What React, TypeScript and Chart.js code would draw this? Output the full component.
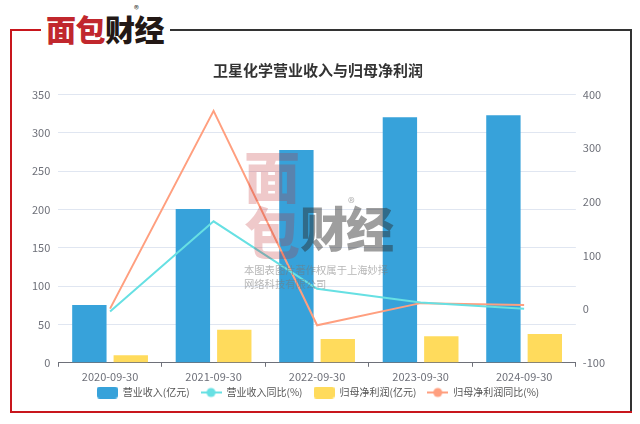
import React, { useEffect, useRef } from "react";
import { Chart, registerables } from "chart.js";

Chart.register(...registerables);

const categories = ["2020-09-30", "2021-09-30", "2022-09-30", "2023-09-30", "2024-09-30"];
const revenue = [75.4, 200.5, 277.6, 320.3, 322.9];
const revenueYoY = [-4.5, 163.7, 38, 12.3, 0.5];
const netProfit = [9.7, 43.1, 31, 34.5, 37.5];
const netProfitYoY = [1, 369.5, -30, 11.2, 7.5];
const seriesNames = ["营业收入(亿元)", "营业收入同比(%)", "归母净利润(亿元)", "归母净利润同比(%)"];
const leftTicks = [0, 350, 50];
const rightTicks = [-100, 400, 100];

const BLUE = "#37A2DA";
const CYAN = "#67E0E3";
const YELLOW = "#FFDB5C";
const ORANGE = "#FF9F7F";
const FONT = "'Noto Sans CJK SC', 'Noto Sans', sans-serif";

function rectIcon(color: string) {
  const c = document.createElement("canvas");
  c.width = 21;
  c.height = 12;
  const ctx = c.getContext("2d")!;
  ctx.fillStyle = color;
  ctx.beginPath();
  (ctx as any).roundRect(0, 0, 21, 12, 3);
  ctx.fill();
  return c;
}

function lineIcon(color: string) {
  const c = document.createElement("canvas");
  c.width = 21;
  c.height = 12;
  const ctx = c.getContext("2d")!;
  ctx.strokeStyle = color;
  ctx.lineWidth = 2;
  ctx.beginPath();
  ctx.moveTo(0, 6);
  ctx.lineTo(21, 6);
  ctx.stroke();
  ctx.fillStyle = color;
  ctx.beginPath();
  ctx.arc(10.5, 6, 4.5, 0, Math.PI * 2);
  ctx.fill();
  return c;
}

const legendShift = {
  id: "legendShift",
  afterLayout(chart: any) {
    const lg = chart.legend;
    if (lg) {
      lg.top -= 9.5;
      lg.bottom -= 9.5;
    }
  },
};

export default function App() {
  const ref = useRef<HTMLCanvasElement>(null);

  useEffect(() => {
    const icons = [rectIcon(BLUE), lineIcon(CYAN), rectIcon(YELLOW), lineIcon(ORANGE)];
    const chart = new Chart(ref.current!, {
      type: "bar",
      data: {
        labels: categories,
        datasets: [
          {
            type: "bar",
            label: seriesNames[0],
            data: revenue,
            backgroundColor: BLUE,
            yAxisID: "y",
            order: 1,
            categoryPercentage: 0.8,
            barPercentage: 0.83,
          },
          {
            type: "line",
            label: seriesNames[1],
            data: revenueYoY,
            borderColor: CYAN,
            backgroundColor: CYAN,
            borderWidth: 2,
            pointRadius: 0,
            yAxisID: "y1",
            order: 0,
          },
          {
            type: "bar",
            label: seriesNames[2],
            data: netProfit,
            backgroundColor: YELLOW,
            yAxisID: "y",
            order: 1,
            categoryPercentage: 0.8,
            barPercentage: 0.83,
          },
          {
            type: "line",
            label: seriesNames[3],
            data: netProfitYoY,
            borderColor: ORANGE,
            backgroundColor: ORANGE,
            borderWidth: 2,
            pointRadius: 0,
            yAxisID: "y1",
            order: 0,
          },
        ] as any,
      },
      plugins: [legendShift],
      options: {
        animation: false,
        responsive: false,
        maintainAspectRatio: false,
        layout: { padding: { left: 24, right: 28, top: 0, bottom: 7 } },
        plugins: {
          tooltip: { enabled: false },
          title: {
            display: true,
            text: "卫星化学营业收入与归母净利润",
            color: "#333",
            font: { family: FONT, size: 15, weight: "bold" },
            padding: { top: 61, bottom: 15.5 },
          },
          legend: {
            position: "bottom",
            labels: {
              usePointStyle: true,
              pointStyleWidth: 21,
              boxHeight: 10,
              padding: 11,
              color: "#555",
              font: { family: FONT, size: 10 },
              generateLabels: (ch: any) =>
                ch.data.datasets.map((ds: any, i: number) => ({
                  text: ds.label,
                  fillStyle: i % 2 ? ds.borderColor : ds.backgroundColor,
                  strokeStyle: "transparent",
                  lineWidth: 0,
                  pointStyle: icons[i],
                  rotation: 0,
                  hidden: !ch.isDatasetVisible(i),
                  datasetIndex: i,
                  fontColor: "#555",
                })),
            },
          },
        },
        scales: {
          x: {
            offset: true,
            grid: { display: true, drawOnChartArea: false, offset: true, tickLength: 4, color: "#6e7079" },
            border: { display: true, color: "#6e7079" },
            ticks: { color: "#6e7079", font: { family: FONT, size: 11 }, padding: 3, maxRotation: 0 },
          },
          y: {
            position: "left",
            min: leftTicks[0],
            max: leftTicks[1],
            ticks: { stepSize: leftTicks[2], color: "#6e7079", font: { family: FONT, size: 11 }, padding: 8 },
            grid: { color: "#e0e6f1", drawTicks: false },
            border: { display: false },
          },
          y1: {
            position: "right",
            min: rightTicks[0],
            max: rightTicks[1],
            ticks: { stepSize: rightTicks[2], color: "#6e7079", font: { family: FONT, size: 11 }, padding: 7 },
            grid: { drawOnChartArea: false, drawTicks: false },
            border: { display: false },
          },
        },
      } as any,
    });
    return () => chart.destroy();
  }, []);

  const red = "#c8161d";
  const dark = "#333";
  return (
    <div style={{ position: "fixed", left: 0, top: 0, width: 640, height: 424, background: "#fff", overflow: "hidden" }}>
      {/* frame */}
      <div style={{ position: "absolute", left: 10, top: 29, width: 31, height: 2, background: red }} />
      <div style={{ position: "absolute", left: 170, top: 29, width: 462, height: 2, background: dark }} />
      <div style={{ position: "absolute", left: 10, top: 29, width: 2, height: 384, background: red }} />
      <div style={{ position: "absolute", left: 630, top: 29, width: 2, height: 384, background: dark }} />
      <div style={{ position: "absolute", left: 10, top: 411, width: 622, height: 2, background: red }} />
      {/* logo */}
      <div
        style={{
          position: "absolute",
          left: 46,
          top: 10,
          fontFamily: FONT,
          fontWeight: 900,
          fontSize: 30,
          lineHeight: "36px",
          letterSpacing: -0.5,
          whiteSpace: "nowrap",
        }}
      >
        <span style={{ color: "#c1272d" }}>面包</span>
        <span style={{ color: "#231815" }}>财经</span>
      </div>
      <div style={{ position: "absolute", left: 134, top: 1, fontSize: 10, fontFamily: FONT, color: "#333" }}>®</div>
      <canvas ref={ref} width={640} height={424} style={{ position: "absolute", left: 0, top: 0, width: 640, height: 424 }} />
      {/* watermark */}
      <div style={{ position: "absolute", left: 244, top: 146, pointerEvents: "none" }}>
        <div
          style={{
            position: "absolute",
            left: 0,
            top: 0,
            width: 58,
            fontFamily: FONT,
            fontWeight: 900,
            fontSize: 56,
            lineHeight: "56px",
            color: "rgba(193,39,45,0.25)",
          }}
        >
          <div>面</div>
          <div>包</div>
        </div>
        <div
          style={{
            position: "absolute",
            left: 56,
            top: 50,
            fontFamily: FONT,
            fontWeight: 900,
            fontSize: 48,
            lineHeight: "60px",
            letterSpacing: -2,
            color: "rgba(40,40,40,0.45)",
            whiteSpace: "nowrap",
          }}
        >
          财经
        </div>
        <div style={{ position: "absolute", left: 104, top: 46, fontSize: 14, fontFamily: FONT, color: "rgba(80,80,80,0.45)" }}>®</div>
        <div
          style={{
            position: "absolute",
            left: 0,
            top: 117,
            fontFamily: FONT,
            fontSize: 10.3,
            lineHeight: "14px",
            color: "rgba(120,120,120,0.55)",
            whiteSpace: "nowrap",
          }}
        >
          <div>本图表图片著作权属于上海妙择</div>
          <div>网络科技有限公司</div>
        </div>
      </div>
    </div>
  );
}
